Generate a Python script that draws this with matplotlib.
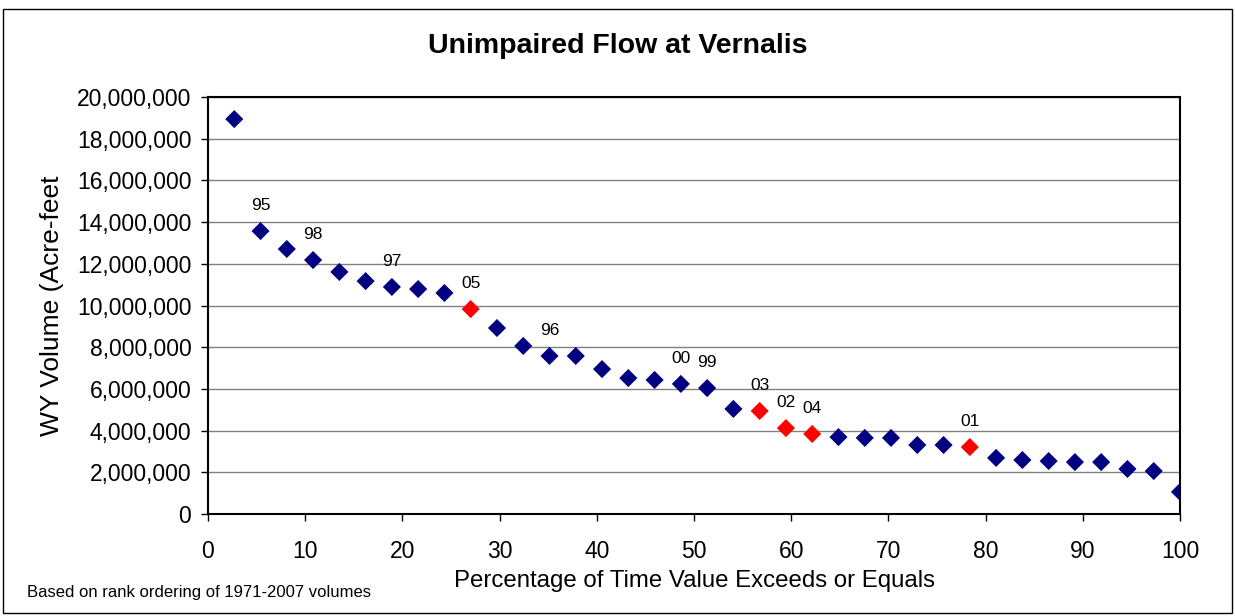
import numpy as np
import matplotlib.pyplot as plt
from matplotlib.patches import Rectangle

plt.rcParams['font.family'] = ['Liberation Sans', 'DejaVu Sans']

# ranked water-year volumes, 1971-2007 (37 years)
volumes = [18.94, 13.57, 12.71, 12.18, 11.61, 11.17, 10.89, 10.79, 10.60, 9.83,
           8.92, 8.06, 7.58, 7.58, 6.95, 6.52, 6.43, 6.24, 6.04, 5.04,
           4.94, 4.12, 3.84, 3.69, 3.65, 3.65, 3.31, 3.31, 3.21, 2.69,
           2.59, 2.54, 2.49, 2.49, 2.16, 2.06, 1.06]
volumes = np.array(volumes) * 1e6
rank = np.arange(1, len(volumes) + 1)
pct = rank / len(volumes) * 100

# year labels: rank -> label
year_labels = {2: '95', 4: '98', 7: '97', 10: '05', 13: '96', 18: '00',
               19: '99', 21: '03', 22: '02', 23: '04', 29: '01'}
red_ranks = [10, 21, 22, 23, 29]

colors = ['#ff0000' if r in red_ranks else '#000080' for r in rank]

fig = plt.figure(figsize=(12.35, 6.16), dpi=100)
ax = fig.add_axes([208/1235, 102/616, 972/1235, 417/616])

ax.scatter(pct, volumes, marker='D', s=85, c=colors, zorder=3, linewidths=0)

for r, lab in year_labels.items():
    ax.annotate(lab, (pct[r-1], volumes[r-1]), xytext=(0, 13),
                textcoords='offset points', ha='center', va='bottom', fontsize=12.5)

ax.set_xlim(0, 100)
ax.set_ylim(0, 20e6)
ax.set_xticks(np.arange(0, 101, 10))
ax.set_yticks(np.arange(0, 20e6 + 1, 2e6))
ax.yaxis.set_major_formatter(plt.FuncFormatter(lambda v, p: f'{v:,.0f}'))
ax.tick_params(labelsize=16.5, direction='out', length=5, width=1)
ax.tick_params(axis='x', pad=14)
ax.tick_params(axis='y', pad=7)
ax.grid(axis='y', color='#808080', linewidth=1)
ax.set_axisbelow(True)
for s in ax.spines.values():
    s.set_linewidth(1.5)

ax.set_xlabel('Percentage of Time Value Exceeds or Equals', fontsize=17.3, labelpad=5)
ax.set_ylabel('WY Volume (Acre-feet', fontsize=19, labelpad=9)

fig.text(0.5, 1 - 46/616, 'Unimpaired Flow at Vernalis', ha='center', va='center',
         fontsize=20.5, fontweight='bold')
fig.text(27/1235, 23/616, 'Based on rank ordering of 1971-2007 volumes',
         ha='left', va='center', fontsize=12)

fig.patches.append(Rectangle((3/1235, 3/616), 1229/1235, 604/616, transform=fig.transFigure,
                             fill=False, edgecolor='black', linewidth=1))

fig.savefig('out.png', dpi=100)
